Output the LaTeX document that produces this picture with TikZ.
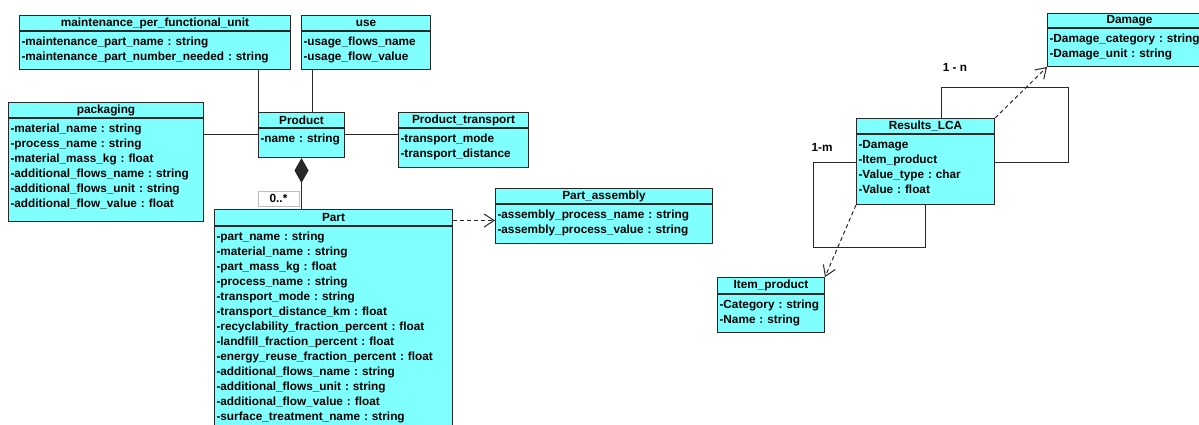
\documentclass[tikz,border=0pt]{standalone}
\usepackage{fontspec}
\setmainfont{Liberation Sans}
\usetikzlibrary{arrows.meta}
\frenchspacing
\definecolor{umlcyan}{RGB}{128,255,255}
\definecolor{umlline}{RGB}{40,40,40}
\tikzset{
  head/.style={draw=umlline, fill=umlcyan, anchor=north west, inner sep=0pt,
    minimum height=15pt},
  body/.style={draw=umlline, fill=umlcyan, anchor=north west, align=left,
    inner xsep=2pt, inner ysep=3pt, text height=11.2pt},
  mult/.style={draw=black!25, fill=white, inner sep=0pt,
    minimum width=41pt, minimum height=15pt},
  dep/.style={dash pattern=on 4pt off 3pt,
    -{Straight Barb[length=10pt,width=13pt]}},
}
\begin{document}
\begin{tikzpicture}[x=1pt, y=-1pt, line width=1pt,
    font=\fontsize{11.8}{15}\selectfont\bfseries]
  \path[use as bounding box, fill=white] (0,0) rectangle (1199,424);
  \draw
    (19,15) node[head, minimum width=271pt] (mpfuh) {maintenance\_per\_functional\_unit}
    (mpfuh.south west) node[body, text width=267pt, text depth=20.8pt] (mpfub)
      {-maintenance\_part\_name : string\\-maintenance\_part\_number\_needed : string}
    (301,15) node[head, minimum width=129pt] (useh) {use}
    (useh.south west) node[body, text width=125pt, text depth=20.8pt] (useb)
      {-usage\_flows\_name\\-usage\_flow\_value}
    (8,102) node[head, minimum width=195pt] (packh) {packaging}
    (packh.south west) node[body, text width=191pt, text depth=85.8pt] (packb)
      {-material\_name : string\\-process\_name : string\\-material\_mass\_kg : float\\
       -additional\_flows\_name : string\\-additional\_flows\_unit : string\\
       -additional\_flow\_value : float}
    (258,112) node[head, minimum width=86pt] (prodh) {Product}
    (prodh.south west) node[body, text width=82pt, text depth=11.8pt] (prodb)
      {-name : string}
    (398,112) node[head, minimum width=130pt] (pth) {Product\_transport}
    (pth.south west) node[body, text width=126pt, text depth=21.8pt] (ptb)
      {-transport\_mode\\-transport\_distance}
    (214,209) node[head, minimum width=238pt, minimum height=16pt] (parth) {Part}
    (parth.south west) node[body, text width=234pt, text depth=185.8pt] (partb)
      {-part\_name : string\\-material\_name : string\\-part\_mass\_kg : float\\
       -process\_name : string\\-transport\_mode : string\\
       -transport\_distance\_km : float\\-recyclability\_fraction\_percent : float\\
       -landfill\_fraction\_percent : float\\-energy\_reuse\_fraction\_percent : float\\
       -additional\_flows\_name : string\\-additional\_flows\_unit : string\\
       -additional\_flow\_value : float\\-surface\_treatment\_name : string}
    (495,188) node[head, minimum width=217pt] (pah) {Part\_assembly}
    (pah.south west) node[body, text width=213pt, text depth=21.8pt] (pab)
      {-assembly\_process\_name : string\\-assembly\_process\_value : string}
    (856,118) node[head, minimum width=138pt] (resh) {Results\_LCA}
    (resh.south west) node[body, text width=134pt, text depth=52.8pt] (resb)
      {-Damage\\-Item\_product\\-Value\_type : char\\-Value : float}
    (1047,13) node[head, minimum width=164pt, minimum height=14pt] (damh) {Damage}
    (damh.south west) node[body, text width=160pt, text depth=20.8pt] (damb)
      {-Damage\_category : string\\-Damage\_unit : string}
    (717,277) node[head, minimum width=107pt, minimum height=16pt] (itemh) {Item\_product}
    (itemh.south west) node[body, text width=103pt, text depth=20.8pt] (itemb)
      {-Category : string\\-Name : string}
    (278.5,198.5) node[mult] (zeromany) {0..*}
    (955,67) node (onen) {1 - n}
    (822,147) node (onem) {1-m};
  \begin{scope}[umlline]
    \draw (mpfub.south -| prodh.north west) -- (prodh.north west);
    \draw ([xshift=11pt]prodh.north) -- ([xshift=11pt]prodh.north |- useb.south);
    \draw ([yshift=-6pt]prodb.north west) -- ([yshift=-6pt]prodb.north west -| packb.east);
    \draw ([yshift=-6pt]prodb.north east) -- ([yshift=-6pt]prodb.north east -| ptb.west);
    \draw[-{Diamond[length=25pt,width=14pt]}] (prodb.south |- parth.north) -- (prodb.south);
    \draw[dep] ([yshift=-3pt]parth.east) -- ([yshift=-3pt]parth.east -| pab.west);
    \draw ([xshift=16pt]resh.north) -- ++(0,-31) -- ++(127,0) |- ([yshift=-28pt]resb.north east);
    \draw ([yshift=-28pt]resb.north west) -- ++(-43,0) -- ++(0,85) -| (resb.south);
    \draw[dep] (resh.north east) -- (damb.south west);
    \draw[dep] (resb.south west) -- (itemh.north east);
  \end{scope}
\end{tikzpicture}
\end{document}
